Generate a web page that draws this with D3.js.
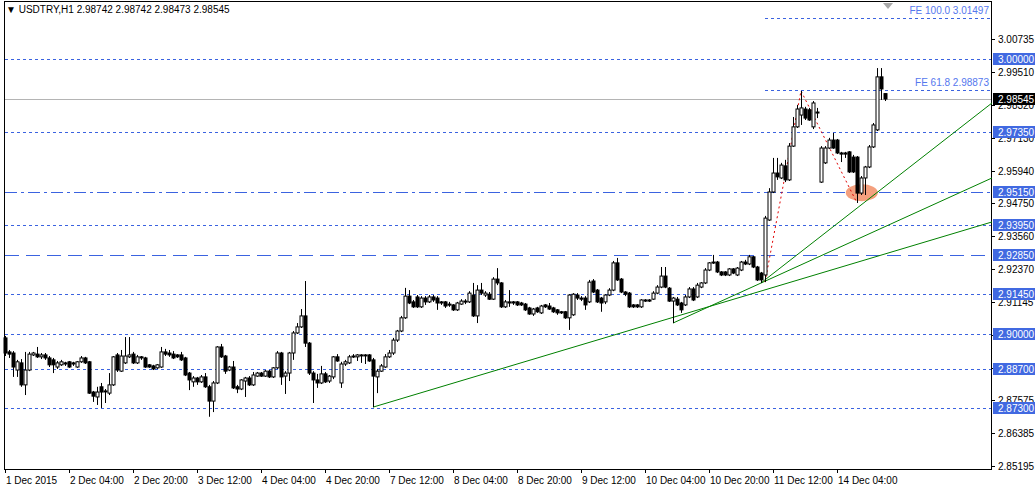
<!DOCTYPE html>
<html>
<head>
<meta charset="utf-8">
<script src="https://cdn.jsdelivr.net/npm/d3@7"></script>
<style>
  body { margin: 0; background: #fff; }
  text { font-family: "Liberation Sans", Arial, sans-serif; }
</style>
</head>
<body>
<div id="chart"></div>
<script>
// hourly candles, 1 Dec 2015 00:00 onwards
const open = [2.8985,2.8934,2.8930,2.8868,2.8894,2.8814,2.8868,2.8923,2.8926,2.8916,2.8923,2.8912,2.8905,2.8879,2.8887,2.8894,2.8898,2.8894,2.8879,2.8898,
  2.8912,2.8898,2.8788,2.8770,2.8807,2.8792,2.8784,2.8814,2.8923,2.8864,2.8894,2.8916,2.8926,2.8894,2.8916,2.8912,2.8887,2.8883,2.8876,2.8879,
  2.8934,2.8930,2.8926,2.8923,2.8923,2.8912,2.8857,2.8825,2.8839,2.8825,2.8843,2.8807,2.8755,2.8821,2.8952,2.8919,2.8868,2.8879,2.8807,2.8799,
  2.8828,2.8839,2.8814,2.8846,2.8857,2.8846,2.8864,2.8843,2.8876,2.8930,2.8846,2.8857,2.8930,2.9003,2.9025,2.9065,2.8966,2.8857,2.8832,2.8821,
  2.8854,2.8828,2.8843,2.8916,2.8821,2.8890,2.8894,2.8916,2.8916,2.8923,2.8923,2.8923,2.8905,2.8843,2.8864,2.8879,2.8916,2.8930,2.8977,2.9010,
  2.9058,2.9137,2.9116,2.9134,2.9098,2.9130,2.9116,2.9134,2.9130,2.9116,2.9116,2.9108,2.9105,2.9087,2.9108,2.9119,2.9116,2.9141,2.9065,2.9159,
  2.9141,2.9144,2.9126,2.9199,2.9185,2.9098,2.9116,2.9116,2.9116,2.9112,2.9108,2.9094,2.9072,2.9094,2.9076,2.9105,2.9101,2.9094,2.9087,2.9080,
  2.9080,2.9058,2.9069,2.9141,2.9130,2.9130,2.9116,2.9192,2.9159,2.9130,2.9116,2.9141,2.9159,2.9258,2.9199,2.9152,2.9148,2.9105,2.9105,2.9098,
  2.9123,2.9123,2.9126,2.9148,2.9170,2.9210,2.9166,2.9119,2.9126,2.9112,2.9105,2.9134,2.9163,2.9134,2.9170,2.9185,2.9232,2.9258,2.9261,2.9225,
  2.9225,2.9214,2.9236,2.9214,2.9232,2.9261,2.9254,2.9280,2.9243,2.9221,2.9214,2.9414,2.9516,2.9585,2.9567,2.9611,2.9560,2.9683,2.9753,2.9796,
  2.9818,2.9815,2.9753,2.9807,2.9552,2.9622,2.9676,2.9705,2.9705,2.9658,2.9658,2.9662,2.9643,2.9643,2.9512,2.9567,2.9607,2.9680,2.9742,2.9935,
  2.9874];
const high = [2.8992,2.8941,2.8937,2.8905,2.8908,2.8934,2.8934,2.8934,2.8952,2.8930,2.8930,2.8919,2.8912,2.8901,2.8905,2.8898,2.8901,2.8898,2.8901,2.8919,
  2.8916,2.8901,2.8792,2.8807,2.8821,2.8799,2.8857,2.8919,2.8930,2.8941,2.8988,2.8988,2.8934,2.8923,2.8919,2.8916,2.8890,2.8887,2.8890,2.8952,
  2.8945,2.8941,2.8937,2.8926,2.8934,2.8916,2.8861,2.8846,2.8843,2.8850,2.8857,2.8814,2.8828,2.8955,2.8963,2.8923,2.8883,2.8901,2.8814,2.8835,
  2.8843,2.8846,2.8861,2.8861,2.8861,2.8868,2.8868,2.8879,2.8937,2.8934,2.8864,2.8934,2.9010,2.9039,2.9090,2.9192,2.8970,2.8864,2.8854,2.8883,
  2.8861,2.8850,2.8919,2.8926,2.8898,2.8905,2.8923,2.8926,2.8926,2.8926,2.8926,2.8926,2.8912,2.8872,2.8890,2.8926,2.8941,2.8985,2.9014,2.9065,
  2.9167,2.9159,2.9123,2.9141,2.9137,2.9137,2.9141,2.9141,2.9137,2.9119,2.9119,2.9116,2.9108,2.9116,2.9126,2.9126,2.9155,2.9185,2.9177,2.9185,
  2.9155,2.9152,2.9206,2.9239,2.9188,2.9123,2.9159,2.9119,2.9119,2.9116,2.9112,2.9098,2.9094,2.9098,2.9105,2.9108,2.9112,2.9098,2.9090,2.9083,
  2.9083,2.9144,2.9148,2.9148,2.9137,2.9137,2.9196,2.9199,2.9163,2.9134,2.9144,2.9166,2.9265,2.9276,2.9203,2.9155,2.9152,2.9108,2.9108,2.9126,
  2.9126,2.9126,2.9155,2.9177,2.9243,2.9243,2.9170,2.9134,2.9134,2.9116,2.9141,2.9170,2.9170,2.9185,2.9188,2.9239,2.9261,2.9287,2.9265,2.9228,
  2.9228,2.9239,2.9239,2.9243,2.9265,2.9269,2.9287,2.9283,2.9247,2.9225,2.9429,2.9530,2.9640,2.9640,2.9622,2.9633,2.9694,2.9789,2.9833,2.9884,
  2.9826,2.9822,2.9847,2.9822,2.9683,2.9683,2.9713,2.9731,2.9709,2.9662,2.9662,2.9665,2.9651,2.9647,2.9574,2.9611,2.9687,2.9767,2.9967,2.9967,
  2.9874];
const low = [2.8919,2.8912,2.8843,2.8843,2.8807,2.8777,2.8864,2.8919,2.8912,2.8908,2.8905,2.8879,2.8857,2.8872,2.8883,2.8883,2.8876,2.8883,2.8876,2.8894,
  2.8890,2.8781,2.8752,2.8741,2.8730,2.8748,2.8777,2.8810,2.8861,2.8861,2.8890,2.8912,2.8890,2.8890,2.8905,2.8876,2.8876,2.8868,2.8872,2.8876,
  2.8919,2.8916,2.8908,2.8912,2.8901,2.8846,2.8795,2.8807,2.8814,2.8821,2.8803,2.8698,2.8715,2.8817,2.8912,2.8854,2.8864,2.8799,2.8784,2.8795,
  2.8770,2.8810,2.8810,2.8843,2.8843,2.8843,2.8839,2.8839,2.8872,2.8814,2.8781,2.8828,2.8905,2.8999,2.9021,2.8952,2.8850,2.8748,2.8803,2.8817,
  2.8821,2.8821,2.8835,2.8898,2.8803,2.8883,2.8890,2.8912,2.8901,2.8894,2.8890,2.8898,2.8733,2.8784,2.8861,2.8876,2.8912,2.8923,2.8970,2.9006,
  2.9054,2.9108,2.9094,2.9094,2.9094,2.9105,2.9112,2.9116,2.9087,2.9105,2.9094,2.9098,2.9083,2.9083,2.9105,2.9108,2.9112,2.9061,2.9039,2.9141,
  2.9134,2.9123,2.9123,2.9177,2.9094,2.9094,2.9098,2.9105,2.9101,2.9101,2.9083,2.9069,2.9065,2.9076,2.9072,2.9094,2.9087,2.9076,2.9069,2.9072,
  2.9054,2.9014,2.9065,2.9123,2.9119,2.9087,2.9112,2.9148,2.9112,2.9080,2.9108,2.9137,2.9155,2.9192,2.9148,2.9137,2.9094,2.9094,2.9094,2.9094,
  2.9116,2.9116,2.9123,2.9144,2.9166,2.9166,2.9116,2.9039,2.9101,2.9076,2.9101,2.9130,2.9119,2.9130,2.9166,2.9181,2.9228,2.9254,2.9221,2.9210,
  2.9210,2.9210,2.9217,2.9210,2.9228,2.9250,2.9250,2.9239,2.9192,2.9185,2.9188,2.9411,2.9512,2.9560,2.9563,2.9552,2.9556,2.9680,2.9749,2.9760,
  2.9778,2.9775,2.9745,2.9785,2.9549,2.9618,2.9673,2.9673,2.9654,2.9625,2.9640,2.9585,2.9585,2.9476,2.9505,2.9505,2.9603,2.9676,2.9738,2.9851,
  2.9847];
const close = [2.8930,2.8926,2.8879,2.8898,2.8814,2.8868,2.8926,2.8930,2.8916,2.8923,2.8912,2.8887,2.8887,2.8894,2.8898,2.8890,2.8879,2.8890,2.8898,2.8912,
  2.8894,2.8784,2.8773,2.8788,2.8788,2.8792,2.8814,2.8916,2.8868,2.8919,2.8919,2.8923,2.8894,2.8916,2.8912,2.8879,2.8879,2.8872,2.8887,2.8934,
  2.8926,2.8923,2.8912,2.8916,2.8905,2.8850,2.8832,2.8839,2.8825,2.8843,2.8807,2.8755,2.8821,2.8952,2.8916,2.8864,2.8879,2.8803,2.8799,2.8832,
  2.8839,2.8814,2.8850,2.8857,2.8846,2.8864,2.8843,2.8876,2.8930,2.8843,2.8857,2.8930,2.9003,2.9025,2.9065,2.8966,2.8857,2.8832,2.8821,2.8854,
  2.8825,2.8846,2.8916,2.8901,2.8890,2.8898,2.8916,2.8919,2.8923,2.8923,2.8923,2.8901,2.8846,2.8864,2.8883,2.8916,2.8930,2.8977,2.9010,2.9058,
  2.9137,2.9112,2.9098,2.9098,2.9130,2.9116,2.9134,2.9123,2.9112,2.9112,2.9101,2.9105,2.9087,2.9112,2.9119,2.9116,2.9148,2.9065,2.9159,2.9148,
  2.9148,2.9126,2.9199,2.9185,2.9098,2.9116,2.9112,2.9112,2.9105,2.9105,2.9087,2.9072,2.9090,2.9080,2.9101,2.9098,2.9090,2.9080,2.9076,2.9076,
  2.9058,2.9141,2.9144,2.9130,2.9126,2.9105,2.9188,2.9152,2.9116,2.9112,2.9141,2.9159,2.9258,2.9196,2.9152,2.9144,2.9098,2.9098,2.9098,2.9123,
  2.9119,2.9119,2.9148,2.9170,2.9210,2.9170,2.9119,2.9130,2.9105,2.9087,2.9134,2.9163,2.9123,2.9177,2.9185,2.9232,2.9258,2.9261,2.9225,2.9214,
  2.9214,2.9236,2.9221,2.9239,2.9261,2.9254,2.9280,2.9243,2.9196,2.9196,2.9421,2.9516,2.9585,2.9571,2.9614,2.9560,2.9683,2.9753,2.9818,2.9822,
  2.9785,2.9778,2.9840,2.9804,2.9676,2.9676,2.9705,2.9676,2.9658,2.9654,2.9654,2.9589,2.9589,2.9512,2.9567,2.9607,2.9680,2.9760,2.9935,2.9891,
  2.98545];

const timeLabels = ["1 Dec 2015","2 Dec 04:00","2 Dec 20:00","3 Dec 12:00","4 Dec 04:00","4 Dec 20:00","7 Dec 12:00",
  "8 Dec 04:00","8 Dec 20:00","9 Dec 12:00","10 Dec 04:00","10 Dec 20:00","11 Dec 12:00","14 Dec 04:00"];
const priceTicks = [3.00735,2.99510,2.98320,2.97130,2.95940,2.94750,2.93560,2.92370,2.91145,2.89955,2.88765,2.87575,2.86385,2.85195];

// horizontal levels and their dash styles
const levels = [3.0000,2.9735,2.9515,2.9395,2.9285,2.9145,2.9000,2.8870,2.8730];
const levelDash = ["3,3","3,3","12,4,3,4","3,3","14,7","3,3","3,3","3,3","3,3"];
const feLevels = [3.01497, 2.98873];
const feNames = ["FE 100.0", "FE 61.8"];
const lastPrice = 2.98545;

// trend lines: [startIndex, startPrice, endIndex, endPrice]
const trendLines = [[92, 2.8733, 246.75, 2.9407], [167, 2.9039, 246.75, 2.9567], [189, 2.9185, 246.75, 2.9840]];
const zigzag = [[190, 2.9188], [199, 2.9884], [213, 2.9476]];

const W = 1036, H = 490;
const pL = 4, pR = 991, pT = 1, pB = 469;

const svg = d3.select("#chart").append("svg")
    .attr("width", W).attr("height", H);

const x = d3.scaleLinear().domain([0, 246.5]).range([5, 991]);
const y = d3.scaleLinear().domain([2.85195, 3.0]).range([465.8, 59]);

// frame
svg.append("rect")
    .attr("x", pL + 0.5).attr("y", pT + 0.5)
    .attr("width", pR - pL).attr("height", pB - pT)
    .attr("fill", "#fff").attr("stroke", "#000");

// level lines
svg.selectAll(".lvl").data(levels).enter().append("line")
    .attr("x1", pL + 1).attr("x2", pR)
    .attr("y1", d => Math.round(y(d)) + 0.5).attr("y2", d => Math.round(y(d)) + 0.5)
    .attr("stroke", "#3b63e0")
    .attr("stroke-dasharray", (d, i) => levelDash[i]);

// FE lines
svg.selectAll(".fe").data(feLevels).enter().append("line")
    .attr("x1", x(190)).attr("x2", pR)
    .attr("y1", d => Math.round(y(d)) + 0.5).attr("y2", d => Math.round(y(d)) + 0.5)
    .attr("stroke", "#3b63e0").attr("stroke-dasharray", "3,3");
svg.selectAll(".fet").data(feLevels).enter().append("text")
    .attr("x", pR - 2).attr("y", d => y(d) - 4)
    .attr("text-anchor", "end").attr("font-size", 10).attr("fill", "#5577ee")
    .text((d, i) => feNames[i] + " " + d.toFixed(5));

// last price line
svg.append("line")
    .attr("x1", pL + 1).attr("x2", pR)
    .attr("y1", Math.round(y(lastPrice)) + 0.5).attr("y2", Math.round(y(lastPrice)) + 0.5)
    .attr("stroke", "#b4b4b4");

// ellipse highlight
svg.append("ellipse")
    .attr("cx", x(214.2)).attr("cy", y(2.9513))
    .attr("rx", 16).attr("ry", 8.5)
    .attr("fill", "#f4a07e");

// trend lines
svg.selectAll(".tl").data(trendLines).enter().append("line")
    .attr("x1", d => x(d[0])).attr("y1", d => y(d[1]))
    .attr("x2", d => x(d[2])).attr("y2", d => y(d[3]))
    .attr("stroke", "#008000");

// zigzag
svg.append("path")
    .attr("d", d3.line().x(d => x(d[0])).y(d => y(d[1]))(zigzag))
    .attr("fill", "none").attr("stroke", "#e00000").attr("stroke-dasharray", "2,3");

// candles
const idx = d3.range(close.length);
const g = svg.append("g");
g.selectAll(".wick").data(idx).enter().append("line")
    .attr("x1", i => Math.round(x(i)) + 0.5).attr("x2", i => Math.round(x(i)) + 0.5)
    .attr("y1", i => y(high[i])).attr("y2", i => y(low[i]))
    .attr("stroke", "#000");
g.selectAll(".body").data(idx).enter().append("rect")
    .attr("x", i => Math.round(x(i)) - 1)
    .attr("y", i => y(Math.max(open[i], close[i])))
    .attr("width", 3)
    .attr("height", i => Math.max(1, Math.abs(y(open[i]) - y(close[i]))))
    .attr("fill", i => close[i] >= open[i] ? "#fff" : "#000")
    .attr("stroke", "#000");

// price axis
svg.selectAll(".pt").data(priceTicks).enter().append("line")
    .attr("x1", pR).attr("x2", pR + 4)
    .attr("y1", d => Math.round(y(d)) + 0.5).attr("y2", d => Math.round(y(d)) + 0.5)
    .attr("stroke", "#000");
svg.selectAll(".ptl").data(priceTicks).enter().append("text")
    .attr("x", pR + 7).attr("y", d => y(d) + 4)
    .attr("font-size", 10).text(d => d.toFixed(5));

// level boxes
const boxes = svg.selectAll(".lb").data(levels).enter().append("g")
    .attr("transform", d => `translate(${pR + 2},${Math.round(y(d)) - 6})`);
boxes.append("rect").attr("width", 42).attr("height", 12).attr("fill", "#4169e1");
boxes.append("text").attr("x", 5).attr("y", 10).attr("font-size", 10)
    .attr("fill", "#fff").text(d => d.toFixed(5));

const lp = svg.append("g").attr("transform", `translate(${pR + 2},${Math.round(y(lastPrice)) - 6})`);
lp.append("rect").attr("width", 42).attr("height", 12).attr("fill", "#000");
lp.append("text").attr("x", 5).attr("y", 10).attr("font-size", 10)
    .attr("fill", "#fff").text(lastPrice.toFixed(5));

// time axis
svg.selectAll(".tt").data(timeLabels).enter().append("line")
    .attr("x1", (d, i) => Math.round(x(i * 16)) + 0.5).attr("x2", (d, i) => Math.round(x(i * 16)) + 0.5)
    .attr("y1", pB).attr("y2", pB + 4).attr("stroke", "#000");
svg.selectAll(".ttl").data(timeLabels).enter().append("text")
    .attr("x", (d, i) => x(i * 16) + 1).attr("y", pB + 15)
    .attr("font-size", 10).text(d => d);

// header
svg.append("text").attr("x", 6).attr("y", 13).attr("font-size", 10)
    .text("\u25BC USDTRY,H1  2.98742 2.98742 2.98473 2.98545");

// shift marker
svg.append("path").attr("d", "M883,3 L893,3 L888,9 Z").attr("fill", "#a8a8a8");
</script>
</body>
</html>
